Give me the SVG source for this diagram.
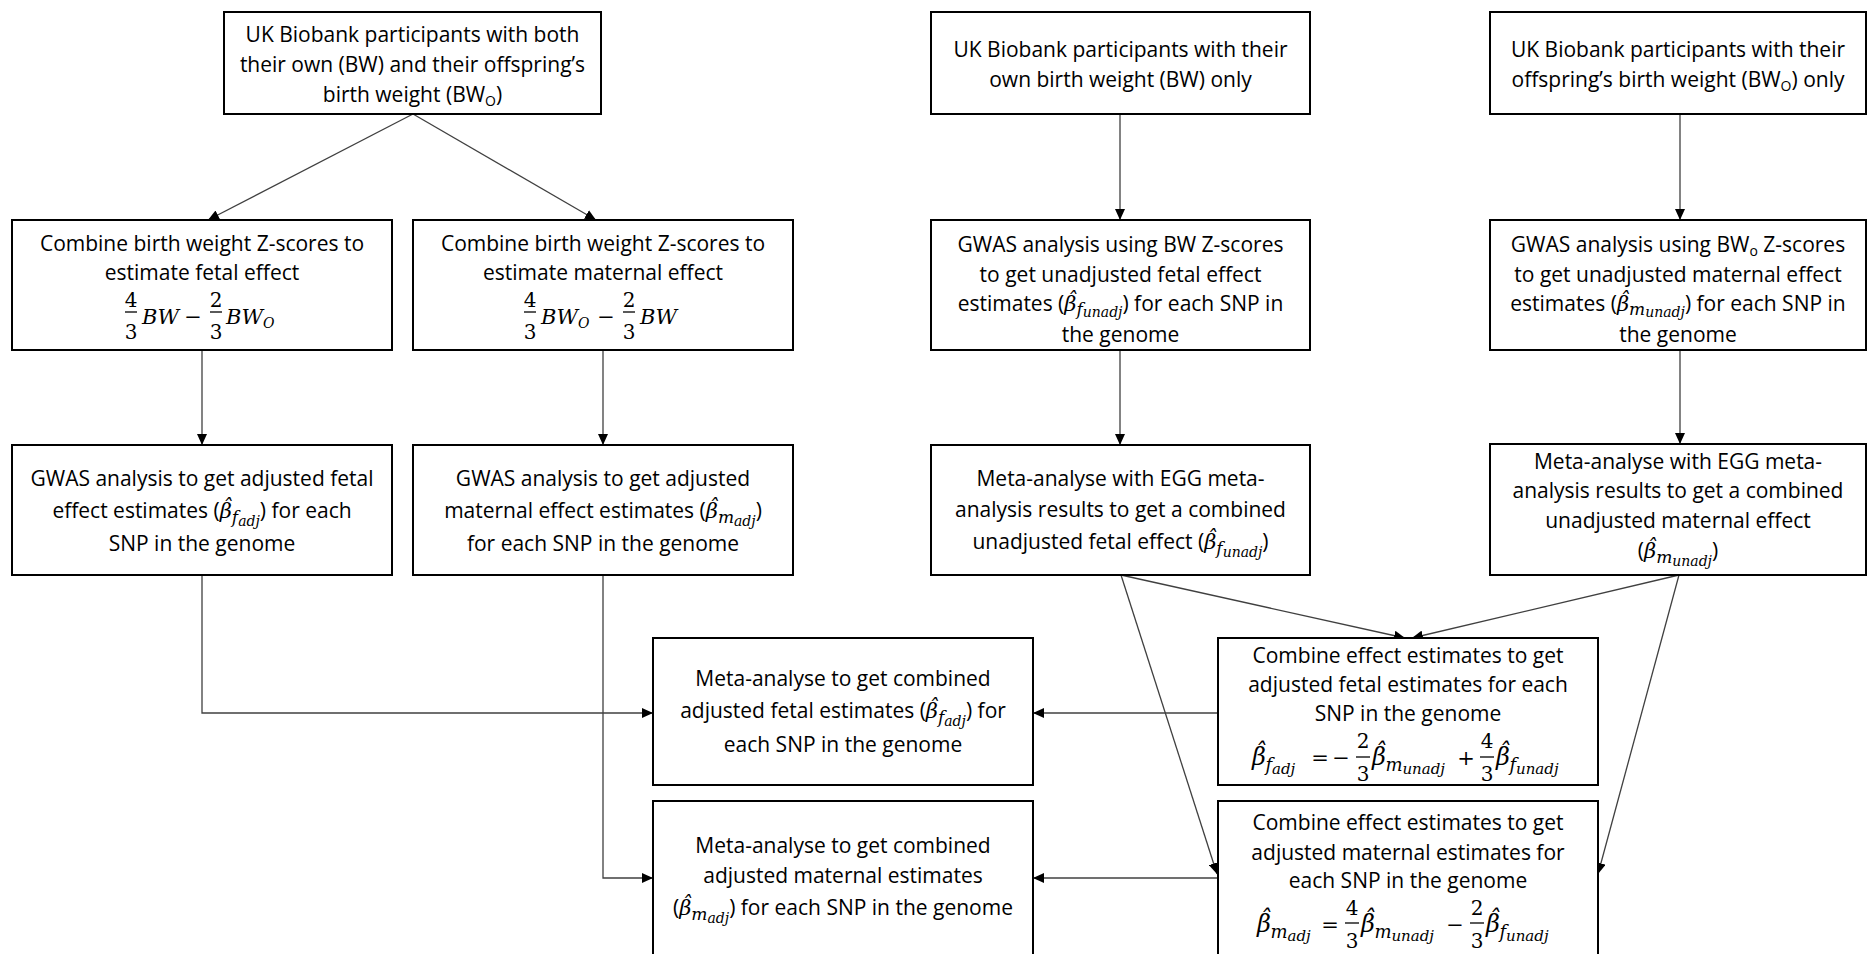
<svg xmlns="http://www.w3.org/2000/svg" width="1867" height="954" viewBox="0 0 1867 954">
<defs>
<style>
.box{fill:#fff;stroke:#000;stroke-width:2}
.t{font-family:"Open Sans","Liberation Sans",sans-serif;font-size:21px;fill:#000;text-anchor:middle}
.m{font-family:"DejaVu Serif","Liberation Serif",serif;font-style:italic;font-size:21px}
.s1{font-size:17px}
.s2{font-size:14px}
.f1{font-size:18px}
.f2{font-size:15px}
.sub{font-size:14px}
.mf{font-family:"DejaVu Serif","Liberation Serif",serif;font-style:italic;font-size:21px;fill:#000}
.mb{font-family:"DejaVu Serif","Liberation Serif",serif;font-style:italic;font-size:24px;fill:#000}
.num{font-family:"DejaVu Serif","Liberation Serif",serif;font-size:20px;fill:#000;text-anchor:middle}
.op{font-family:"DejaVu Serif","Liberation Serif",serif;font-size:21px;fill:#000;text-anchor:middle}
.bar{stroke:#000;stroke-width:1.3}
.conn{stroke:#404040;stroke-width:1.3;fill:none;marker-end:url(#ah)}
</style>
<marker id="ah" markerUnits="userSpaceOnUse" markerWidth="11" markerHeight="10" refX="11" refY="5" orient="auto">
<path d="M0,0 L11,5 L0,10 Z" fill="#000"/>
</marker>
</defs>
<rect width="1867" height="954" fill="#fff"/>

<g id="connectors">
<line class="conn" x1="413" y1="114" x2="208" y2="220"/>
<line class="conn" x1="413" y1="114" x2="596" y2="220"/>
<line class="conn" x1="1120" y1="114" x2="1120" y2="220"/>
<line class="conn" x1="1680" y1="114" x2="1680" y2="220"/>
<line class="conn" x1="202" y1="350" x2="202" y2="445"/>
<line class="conn" x1="603" y1="350" x2="603" y2="445"/>
<line class="conn" x1="1120" y1="350" x2="1120" y2="445"/>
<line class="conn" x1="1680" y1="350" x2="1680" y2="444"/>
<polyline class="conn" points="202,575 202,713 653,713"/>
<polyline class="conn" points="603,575 603,878 653,878"/>
<line class="conn" x1="1121" y1="575" x2="1405" y2="638"/>
<line class="conn" x1="1679" y1="575" x2="1412" y2="638"/>
<line class="conn" x1="1121" y1="575" x2="1217" y2="874"/>
<line class="conn" x1="1679" y1="575" x2="1598" y2="874"/>
<line class="conn" x1="1218" y1="713" x2="1033" y2="713"/>
<line class="conn" x1="1218" y1="878" x2="1033" y2="878"/>
</g>

<g id="A">
<rect class="box" x="224" y="12" width="377" height="102"/>
<text class="t" x="412.5" y="42">UK Biobank participants with both</text>
<text class="t" x="412.5" y="72">their own (BW) and their offspring’s</text>
<text class="t" x="412.5" y="102">birth weight (BW<tspan class="sub" dy="4">O</tspan><tspan dy="-4">)</tspan></text>
</g>

<g id="B">
<rect class="box" x="931" y="12" width="379" height="102"/>
<text class="t" x="1120.5" y="57">UK Biobank participants with their</text>
<text class="t" x="1120.5" y="87">own birth weight (BW) only</text>
</g>

<g id="C">
<rect class="box" x="1490" y="12" width="376" height="102"/>
<text class="t" x="1678" y="57">UK Biobank participants with their</text>
<text class="t" x="1678" y="87">offspring’s birth weight (BW<tspan class="sub" dy="4">O</tspan><tspan dy="-4">) only</tspan></text>
</g>

<g id="D">
<rect class="box" x="12" y="220" width="380" height="130"/>
<text class="t" x="202" y="251">Combine birth weight Z-scores to</text>
<text class="t" x="202" y="280">estimate fetal effect</text>
<text class="num" x="131" y="307">4</text><line class="bar" x1="125" y1="312" x2="137" y2="312"/><text class="num" x="131" y="339">3</text>
<text class="mf" x="142" y="324">BW</text>
<text class="op" x="193" y="324">−</text>
<text class="num" x="216" y="307">2</text><line class="bar" x1="210" y1="312" x2="222" y2="312"/><text class="num" x="216" y="339">3</text>
<text class="mf" x="226" y="324">BW<tspan font-size="14" dy="4">O</tspan></text>
</g>

<g id="E">
<rect class="box" x="413" y="220" width="380" height="130"/>
<text class="t" x="603" y="251">Combine birth weight Z-scores to</text>
<text class="t" x="603" y="280">estimate maternal effect</text>
<text class="num" x="530" y="307">4</text><line class="bar" x1="524" y1="312" x2="536" y2="312"/><text class="num" x="530" y="339">3</text>
<text class="mf" x="541" y="324">BW<tspan font-size="14" dy="4">O</tspan></text>
<text class="op" x="606" y="324">−</text>
<text class="num" x="629" y="307">2</text><line class="bar" x1="623" y1="312" x2="635" y2="312"/><text class="num" x="629" y="339">3</text>
<text class="mf" x="640" y="324">BW</text>
</g>

<g id="F">
<rect class="box" x="931" y="220" width="379" height="130"/>
<text class="t" x="1120.5" y="252">GWAS analysis using BW Z-scores</text>
<text class="t" x="1120.5" y="282">to get unadjusted fetal effect</text>
<text class="t" x="1120.5" y="311">estimates (<tspan class="m">β</tspan><tspan class="m" dx="-10" dy="-4">ˆ</tspan><tspan class="m s1" dx="-0.5" dy="8">f</tspan><tspan class="m s2" dy="2">unadj</tspan><tspan dy="-6">) for each SNP in</tspan></text>
<text class="t" x="1120.5" y="342">the genome</text>
</g>

<g id="G">
<rect class="box" x="1490" y="220" width="376" height="130"/>
<text class="t" x="1678" y="252">GWAS analysis using BW<tspan class="sub" dy="4">o</tspan><tspan dy="-4"> Z-scores</tspan></text>
<text class="t" x="1678" y="282">to get unadjusted maternal effect</text>
<text class="t" x="1678" y="311">estimates (<tspan class="m">β</tspan><tspan class="m" dx="-10" dy="-4">ˆ</tspan><tspan class="m s1" dx="-0.5" dy="8">m</tspan><tspan class="m s2" dy="2">unadj</tspan><tspan dy="-6">) for each SNP in</tspan></text>
<text class="t" x="1678" y="342">the genome</text>
</g>

<g id="H">
<rect class="box" x="12" y="445" width="380" height="130"/>
<text class="t" x="202" y="486">GWAS analysis to get adjusted fetal</text>
<text class="t" x="202" y="518">effect estimates (<tspan class="m">β</tspan><tspan class="m" dx="-10" dy="-4">ˆ</tspan><tspan class="m s1" dx="-0.5" dy="9">f</tspan><tspan class="m s2" dy="3">adj</tspan><tspan dy="-8">) for each</tspan></text>
<text class="t" x="202" y="551">SNP in the genome</text>
</g>

<g id="I">
<rect class="box" x="413" y="445" width="380" height="130"/>
<text class="t" x="603" y="486">GWAS analysis to get adjusted</text>
<text class="t" x="603" y="518">maternal effect estimates (<tspan class="m">β</tspan><tspan class="m" dx="-10" dy="-4">ˆ</tspan><tspan class="m s1" dx="-0.5" dy="9">m</tspan><tspan class="m s2" dy="3">adj</tspan><tspan dy="-8">)</tspan></text>
<text class="t" x="603" y="551">for each SNP in the genome</text>
</g>

<g id="J">
<rect class="box" x="931" y="445" width="379" height="130"/>
<text class="t" x="1120.5" y="486">Meta-analyse with EGG meta-</text>
<text class="t" x="1120.5" y="517">analysis results to get a combined</text>
<text class="t" x="1120.5" y="549">unadjusted fetal effect (<tspan class="m">β</tspan><tspan class="m" dx="-10" dy="-4">ˆ</tspan><tspan class="m s1" dx="-0.5" dy="9">f</tspan><tspan class="m s2" dy="3">unadj</tspan><tspan dy="-8">)</tspan></text>
</g>

<g id="K">
<rect class="box" x="1490" y="444" width="376" height="131"/>
<text class="t" x="1678" y="469">Meta-analyse with EGG meta-</text>
<text class="t" x="1678" y="498">analysis results to get a combined</text>
<text class="t" x="1678" y="528">unadjusted maternal effect</text>
<text class="t" x="1678" y="558">(<tspan class="m">β</tspan><tspan class="m" dx="-10" dy="-4">ˆ</tspan><tspan class="m s1" dx="-0.5" dy="9">m</tspan><tspan class="m s2" dy="3">unadj</tspan><tspan dy="-8">)</tspan></text>
</g>

<g id="L">
<rect class="box" x="653" y="638" width="380" height="147"/>
<text class="t" x="843" y="686">Meta-analyse to get combined</text>
<text class="t" x="843" y="718">adjusted fetal estimates (<tspan class="m">β</tspan><tspan class="m" dx="-10" dy="-4">ˆ</tspan><tspan class="m s1" dx="-0.5" dy="9">f</tspan><tspan class="m s2" dy="3">adj</tspan><tspan dy="-8">) for</tspan></text>
<text class="t" x="843" y="752">each SNP in the genome</text>
</g>

<g id="M">
<rect class="box" x="1218" y="638" width="380" height="147"/>
<text class="t" x="1408" y="663">Combine effect estimates to get</text>
<text class="t" x="1408" y="692">adjusted fetal estimates for each</text>
<text class="t" x="1408" y="721">SNP in the genome</text>
<text class="mb" x="1252" y="765">β<tspan dx="-12" dy="-5">ˆ</tspan><tspan class="f1" dx="-0.5" dy="11">f</tspan><tspan class="f2" dy="3">adj</tspan></text>
<text class="op" x="1320" y="765">=</text>
<text class="op" x="1341" y="765">−</text>
<text class="num" x="1363" y="748">2</text><line class="bar" x1="1356" y1="757" x2="1370" y2="757"/><text class="num" x="1363" y="781">3</text>
<text class="mb" x="1372" y="765">β<tspan dx="-12" dy="-5">ˆ</tspan><tspan class="f1" dx="-0.5" dy="11">m</tspan><tspan class="f2" dy="3">unadj</tspan></text>
<text class="op" x="1466" y="765">+</text>
<text class="num" x="1487" y="748">4</text><line class="bar" x1="1480" y1="757" x2="1494" y2="757"/><text class="num" x="1487" y="781">3</text>
<text class="mb" x="1496" y="765">β<tspan dx="-12" dy="-5">ˆ</tspan><tspan class="f1" dx="-0.5" dy="11">f</tspan><tspan class="f2" dy="3">unadj</tspan></text>
</g>

<g id="N">
<rect class="box" x="653" y="801" width="380" height="170"/>
<text class="t" x="843" y="853">Meta-analyse to get combined</text>
<text class="t" x="843" y="883">adjusted maternal estimates</text>
<text class="t" x="843" y="915">(<tspan class="m">β</tspan><tspan class="m" dx="-10" dy="-4">ˆ</tspan><tspan class="m s1" dx="-0.5" dy="9">m</tspan><tspan class="m s2" dy="3">adj</tspan><tspan dy="-8">) for each SNP in the genome</tspan></text>
</g>

<g id="O">
<rect class="box" x="1218" y="801" width="380" height="170"/>
<text class="t" x="1408" y="830">Combine effect estimates to get</text>
<text class="t" x="1408" y="860">adjusted maternal estimates for</text>
<text class="t" x="1408" y="888">each SNP in the genome</text>
<text class="mb" x="1257" y="932">β<tspan dx="-12" dy="-5">ˆ</tspan><tspan class="f1" dx="-0.5" dy="11">m</tspan><tspan class="f2" dy="3">adj</tspan></text>
<text class="op" x="1330" y="932">=</text>
<text class="num" x="1352" y="915">4</text><line class="bar" x1="1345" y1="923" x2="1359" y2="923"/><text class="num" x="1352" y="948">3</text>
<text class="mb" x="1361" y="932">β<tspan dx="-12" dy="-5">ˆ</tspan><tspan class="f1" dx="-0.5" dy="11">m</tspan><tspan class="f2" dy="3">unadj</tspan></text>
<text class="op" x="1455" y="932">−</text>
<text class="num" x="1477" y="915">2</text><line class="bar" x1="1470" y1="923" x2="1484" y2="923"/><text class="num" x="1477" y="948">3</text>
<text class="mb" x="1486" y="932">β<tspan dx="-12" dy="-5">ˆ</tspan><tspan class="f1" dx="-0.5" dy="11">f</tspan><tspan class="f2" dy="3">unadj</tspan></text>
</g>
</svg>
